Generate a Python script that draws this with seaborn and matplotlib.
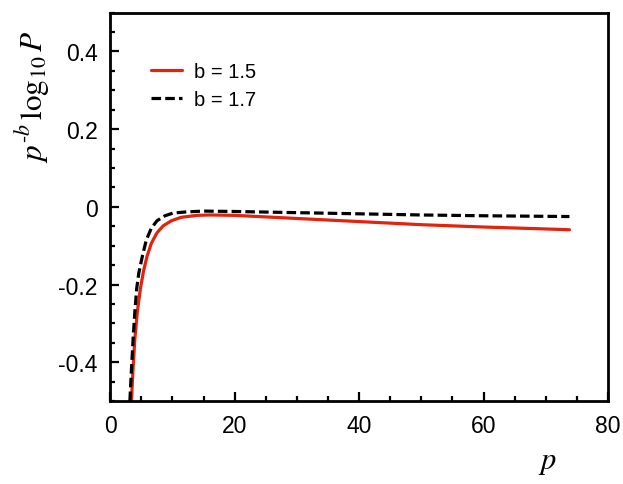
import numpy as np
import matplotlib
matplotlib.use("Agg")
import matplotlib.pyplot as plt
import seaborn as sns
from matplotlib.ticker import MultipleLocator

# values
red_p = [3.4, 3.65, 3.95, 4.35, 4.85, 5.35, 5.9, 6.6, 7.5, 8.5, 9.8, 11.4, 13.9, 16, 20, 30, 40, 50, 60, 70, 73.8]
red_v = [-0.50, -0.42, -0.34, -0.27, -0.21, -0.165, -0.128, -0.094, -0.067, -0.049, -0.036, -0.027,
         -0.022, -0.021, -0.022, -0.030, -0.038, -0.046, -0.052, -0.057, -0.059]
black_p = [3.15, 3.4, 3.67, 3.95, 4.25, 4.6, 5.2, 5.8, 6.6, 7.5, 8.8, 10.1, 12.3, 15, 20, 30, 40, 50, 60, 73.8]
black_v = [-0.50, -0.42, -0.34, -0.27, -0.21, -0.169, -0.124, -0.085, -0.055, -0.036, -0.023, -0.016,
           -0.013, -0.011, -0.012, -0.015, -0.018, -0.021, -0.023, -0.025]
labels = ["b = 1.5", "b = 1.7"]

sns.set_style("ticks", {"axes.edgecolor": "black", "text.color": "black",
                        "xtick.color": "black", "ytick.color": "black"})
plt.rcParams["font.family"] = ["Liberation Sans", "DejaVu Sans"]
plt.rcParams["mathtext.fontset"] = "stix"

fig = plt.figure(figsize=(6.23, 4.85), dpi=100)
ax = fig.add_axes([0.177, 0.171, 0.799, 0.801])

sns.lineplot(x=red_p, y=red_v, ax=ax, color="#e3230d", lw=2.3, label=labels[0], sort=False)
sns.lineplot(x=black_p, y=black_v, ax=ax, color="black", lw=2.3, linestyle=(0, (3.0, 1.3)),
             label=labels[1], sort=False)

ax.set_xlim(0, 80)
ax.set_ylim(-0.5, 0.5)
ax.xaxis.set_major_locator(MultipleLocator(20))
ax.xaxis.set_minor_locator(MultipleLocator(5))
ax.yaxis.set_minor_locator(MultipleLocator(0.05))
ax.set_yticks([-0.4, -0.2, 0, 0.2, 0.4])
ax.set_yticklabels(["-0.4", "-0.2", "0", "0.2", "0.4"])
ax.tick_params(which="both", direction="in", width=1.6, labelsize=16.5, colors="black")
ax.tick_params(axis="x", pad=9)
ax.tick_params(axis="y", pad=9)
ax.tick_params(which="major", length=6.5)
ax.tick_params(which="minor", length=3.5)
for s in ax.spines.values():
    s.set_linewidth(2.0)
    s.set_color("black")

ax.set_xlabel("")
ax.set_ylabel("")
fig.text(547 / 623, 1 - 462 / 485, r"$p$", fontsize=22, ha="center", va="center")
fig.text(33 / 623, 1 - 97 / 485, r"$p^{\text{-}b}\,\log_{10}P$", fontsize=22.5,
         rotation=90, ha="center", va="center")

ax.legend(loc="upper left", bbox_to_anchor=(0.081, 0.872), frameon=False, fontsize=14.5,
          handlelength=1.55, handletextpad=0.6, labelspacing=0.42, borderpad=0, borderaxespad=0)

fig.savefig("out.png", dpi=100)
